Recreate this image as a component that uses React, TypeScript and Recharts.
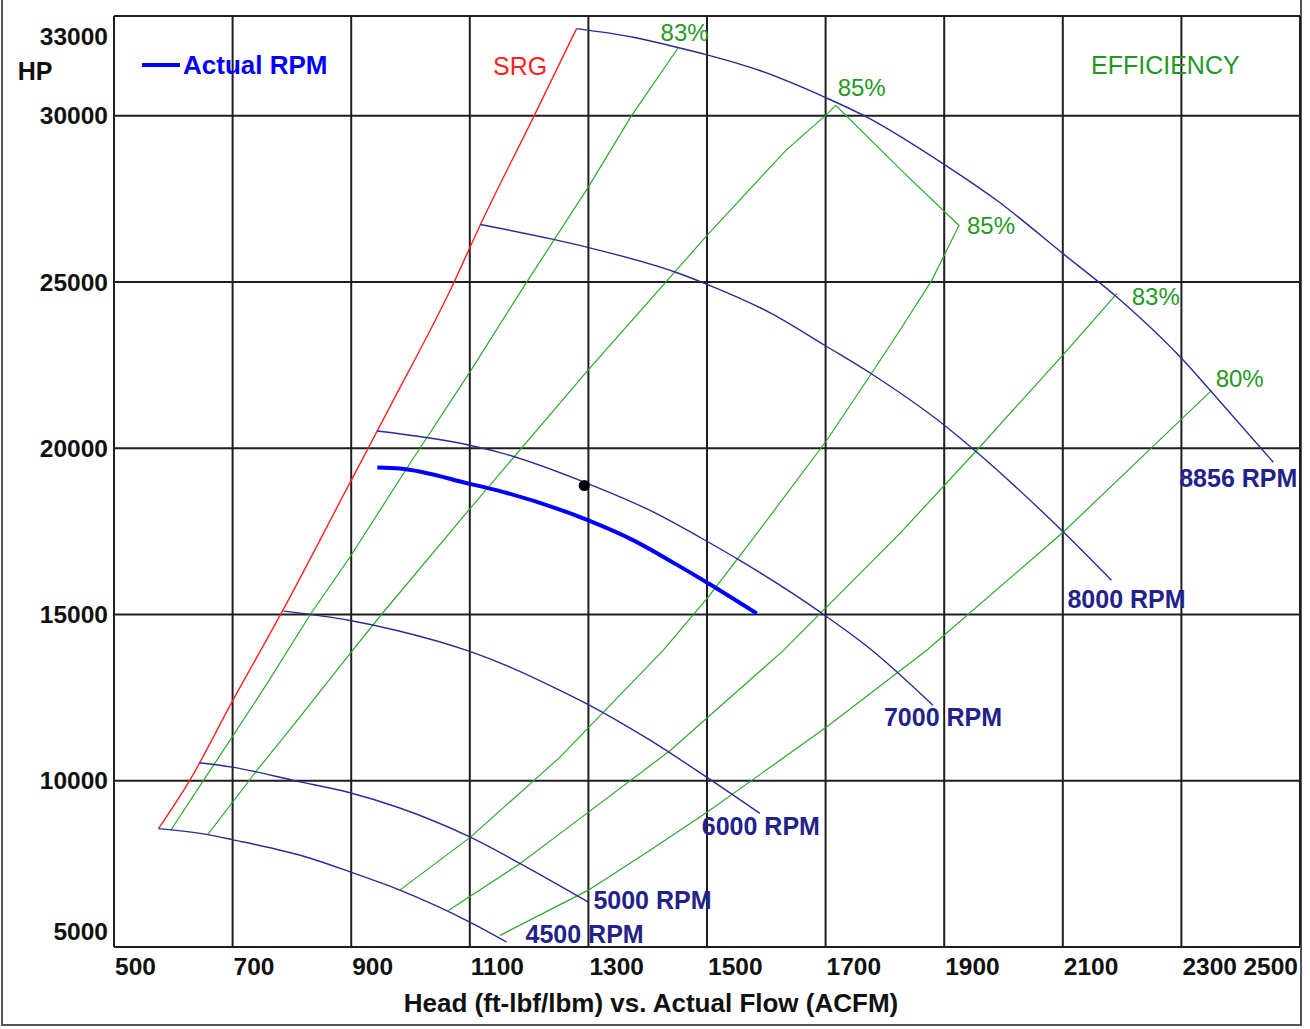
import React from 'react';
import { ComposedChart, Line, XAxis, YAxis, CartesianGrid, Scatter } from 'recharts';

const FONT = '"Liberation Sans", Arial, Helvetica, sans-serif';
const NAVY_TEXT = '#22228a';
const NAVY_LINE = '#2a2a98';
const GREEN_TEXT = '#1f991f';
const GREEN_LINE = '#2ea82e';
const RED = '#ff2222';
const BLUE = '#0000ff';

const X_TICKS = [500, 700, 900, 1100, 1300, 1500, 1700, 1900, 2100, 2300, 2500];
const Y_TICKS = [5000, 10000, 15000, 20000, 25000, 30000, 33000];

// Surge line
const SRG_FLOW = [575, 627, 699, 783, 894, 971, 1067, 1118, 1208, 1280];
const SRG_HP = [8560, 9990, 12370, 15070, 18830, 21440, 24750, 26730, 29980, 32620];

// Speed lines
const RPM8856_FLOW = [1280, 1376, 1449, 1500, 1589, 1702, 1764, 1903, 1989, 2102, 2191, 2301, 2351, 2455];
const RPM8856_HP = [32620, 32360, 32060, 31830, 31360, 30530, 30010, 28500, 27450, 25830, 24550, 22690, 21690, 19580];

const RPM8000_FLOW = [1118, 1241, 1299, 1446, 1500, 1609, 1699, 1777, 1904, 1955, 2101, 2182];
const RPM8000_HP = [26730, 26280, 26040, 25300, 24930, 24050, 23090, 22240, 20640, 19880, 17480, 16030];

const RPM7000_FLOW = [944, 1100, 1151, 1300, 1404, 1502, 1556, 1691, 1775, 1881];
const RPM7000_HP = [20520, 20090, 19870, 18930, 18130, 17180, 16620, 15070, 13970, 12270];

const RPM6000_FLOW = [786, 898, 977, 1100, 1168, 1252, 1299, 1404, 1500, 1589];
const RPM6000_HP = [15100, 14820, 14520, 13890, 13420, 12720, 12300, 11220, 10100, 9020];

const RPM5000_FLOW = [644, 699, 808, 898, 977, 1100, 1185, 1300];
const RPM5000_HP = [10540, 10410, 9990, 9640, 9210, 8310, 7510, 6350];

const RPM4500_FLOW = [575, 658, 699, 831, 898, 982, 1100, 1162];
const RPM4500_HP = [8560, 8380, 8230, 7670, 7260, 6710, 5750, 5150];

const ACTUAL_FLOW = [944, 982, 1100, 1151, 1300, 1376, 1446, 1502, 1584];
const ACTUAL_HP = [19420, 19390, 18930, 18710, 17830, 17230, 16530, 15940, 15030];

const OP_FLOW = [1293];
const OP_HP = [18880];

// Efficiency lines
const EFF83A_FLOW = [596, 651, 699, 758, 831, 898, 999, 1100, 1187, 1299, 1372, 1452];
const EFF83A_HP = [8520, 10010, 11310, 12920, 15000, 16730, 19540, 22290, 24750, 27830, 29980, 32060];

const EFF85_FLOW = [658, 741, 808, 898, 951, 1100, 1299, 1500, 1633, 1700, 1717, 1837, 1925, 1879, 1825, 1777, 1702, 1584, 1502, 1426, 1252, 1207, 1100, 982];
const EFF85_HP = [8380, 10310, 11790, 13820, 15000, 18180, 22340, 26400, 28960, 30010, 30310, 28200, 26700, 25050, 23540, 22240, 20240, 17430, 15520, 13920, 10710, 9990, 8290, 6710];

const EFF83B_FLOW = [1064, 1185, 1252, 1438, 1629, 1741, 1825, 1955, 2102, 2191];
const EFF83B_HP = [6100, 7510, 8410, 10910, 13920, 15930, 17430, 19940, 22840, 24650];

const EFF80_FLOW = [1151, 1300, 1404, 1500, 1701, 1870, 2101, 2301, 2351];
const EFF80_HP = [5350, 6710, 7910, 9050, 11610, 13920, 17480, 20890, 21740];

const toPoints = (flow: number[], hp: number[]) => flow.map((x, i) => ({ x, y: hp[i] }));

type LabelSpec = { text: string; dx: number; dy: number; anchor?: string; color: string; bold?: boolean; size?: number };

const makeLabel = (specs: Record<number, LabelSpec>) => (props: any) => {
  const s = specs[props.index];
  if (!s || props.x == null || props.y == null) return null;
  return (
    <text
      key={`l-${props.index}`}
      x={props.x + s.dx}
      y={props.y + s.dy}
      textAnchor={s.anchor || 'start'}
      dominantBaseline="central"
      fill={s.color}
      fontFamily={FONT}
      fontSize={s.size || 25}
      fontWeight={s.bold ? 'bold' : 'normal'}
    >
      {s.text}
    </text>
  );
};

const rpmLabel = (n: number, text: string, dx: number, dy: number, anchor = 'start') =>
  makeLabel({ [n - 1]: { text, dx, dy, anchor, color: NAVY_TEXT, bold: true, size: 25 } });

const effLabel = (text: string, dx: number, dy: number): LabelSpec => ({ text, dx, dy, color: GREEN_TEXT, size: 24 });

const series = [
  { key: 'srg', data: toPoints(SRG_FLOW, SRG_HP), color: RED, width: 1.4, type: 'monotone', label: undefined },
  { key: 'e83a', data: toPoints(EFF83A_FLOW, EFF83A_HP), color: GREEN_LINE, width: 1.2, type: 'linear', label: makeLabel({ [EFF83A_FLOW.length - 1]: effLabel('83%', -18, -15) }) },
  { key: 'e85', data: toPoints(EFF85_FLOW, EFF85_HP), color: GREEN_LINE, width: 1.2, type: 'linear', label: makeLabel({ 10: effLabel('85%', 2, -18), 12: effLabel('85%', 8, 0) }) },
  { key: 'e83b', data: toPoints(EFF83B_FLOW, EFF83B_HP), color: GREEN_LINE, width: 1.2, type: 'linear', label: makeLabel({ [EFF83B_FLOW.length - 1]: effLabel('83%', 15, 3) }) },
  { key: 'e80', data: toPoints(EFF80_FLOW, EFF80_HP), color: GREEN_LINE, width: 1.2, type: 'linear', label: makeLabel({ [EFF80_FLOW.length - 1]: effLabel('80%', 4, -12) }) },
  { key: 'r8856', data: toPoints(RPM8856_FLOW, RPM8856_HP), color: NAVY_LINE, width: 1.4, type: 'monotone', label: rpmLabel(RPM8856_FLOW.length, '8856 RPM', 24, 16, 'end') },
  { key: 'r8000', data: toPoints(RPM8000_FLOW, RPM8000_HP), color: NAVY_LINE, width: 1.4, type: 'monotone', label: rpmLabel(RPM8000_FLOW.length, '8000 RPM', -44, 19) },
  { key: 'r7000', data: toPoints(RPM7000_FLOW, RPM7000_HP), color: NAVY_LINE, width: 1.4, type: 'monotone', label: rpmLabel(RPM7000_FLOW.length, '7000 RPM', -49, 12) },
  { key: 'r6000', data: toPoints(RPM6000_FLOW, RPM6000_HP), color: NAVY_LINE, width: 1.4, type: 'monotone', label: rpmLabel(RPM6000_FLOW.length, '6000 RPM', -58, 13) },
  { key: 'r5000', data: toPoints(RPM5000_FLOW, RPM5000_HP), color: NAVY_LINE, width: 1.4, type: 'monotone', label: rpmLabel(RPM5000_FLOW.length, '5000 RPM', 5, -2) },
  { key: 'r4500', data: toPoints(RPM4500_FLOW, RPM4500_HP), color: NAVY_LINE, width: 1.4, type: 'monotone', label: rpmLabel(RPM4500_FLOW.length, '4500 RPM', 19, -8) },
  { key: 'actual', data: toPoints(ACTUAL_FLOW, ACTUAL_HP), color: BLUE, width: 4, type: 'monotone', label: undefined },
];

const XTick = (props: any) => {
  const { x, y, payload } = props;
  const last = payload.value === X_TICKS[X_TICKS.length - 1];
  return (
    <text
      x={last ? x - 2 : x + 1}
      y={y + 19}
      textAnchor={last ? 'end' : 'start'}
      dominantBaseline="central"
      fill="#111"
      fontFamily={FONT}
      fontSize={24.5}
      fontWeight="bold"
    >
      {payload.value}
    </text>
  );
};

const YTick = (props: any) => {
  const { x, y, payload } = props;
  let dy = 0;
  if (payload.value === Y_TICKS[Y_TICKS.length - 1]) dy = 20;
  if (payload.value === Y_TICKS[0]) dy = -16;
  return (
    <text
      x={x}
      y={y + dy}
      textAnchor="end"
      dominantBaseline="central"
      fill="#111"
      fontFamily={FONT}
      fontSize={24.5}
      fontWeight="bold"
    >
      {payload.value}
    </text>
  );
};

const OpDot = (props: any) => <circle cx={props.cx} cy={props.cy} r={5.5} fill="#000" />;

export default function App() {
  return (
    <div style={{ position: 'absolute', left: 0, top: 0, width: 1310, height: 1029, background: '#fff', overflow: 'hidden' }}>
      <div style={{ position: 'absolute', left: 1, top: -4, width: 1301, height: 1030, border: '2px solid #555', boxSizing: 'border-box' }} />
      <div style={{ position: 'absolute', left: 0, top: 0 }}>
        <ComposedChart width={1310} height={1029} margin={{ top: 16, right: 10, left: 0, bottom: 0 }}>
          <CartesianGrid stroke="#1e1e1e" strokeWidth={2} />
          <XAxis
            type="number"
            dataKey="x"
            domain={[500, 2500]}
            ticks={X_TICKS}
            interval={0}
            tick={<XTick />}
            tickLine={false}
            axisLine={false}
            tickSize={0}
            tickMargin={0}
            height={82}
            allowDataOverflow
          />
          <YAxis
            type="number"
            dataKey="y"
            domain={[5000, 33000]}
            ticks={Y_TICKS}
            interval={0}
            tick={<YTick />}
            tickLine={false}
            axisLine={false}
            tickSize={0}
            tickMargin={6}
            width={114}
            allowDataOverflow
          />
          {series.map((s) => (
            <Line
              key={s.key}
              data={s.data}
              dataKey="y"
              type={s.type as any}
              stroke={s.color}
              strokeWidth={s.width}
              dot={false}
              activeDot={false}
              isAnimationActive={false}
              label={s.label as any}
            />
          ))}
          <Scatter data={toPoints(OP_FLOW, OP_HP)} dataKey="y" shape={<OpDot />} isAnimationActive={false} />
          <text x={35} y={71} textAnchor="middle" dominantBaseline="central" fontFamily={FONT} fontSize={25} fontWeight="bold" fill="#111">HP</text>
          <line x1={142} y1={65} x2={180} y2={65} stroke={BLUE} strokeWidth={4} />
          <text x={183} y={65} dominantBaseline="central" fontFamily={FONT} fontSize={26} fontWeight="bold" fill={BLUE}>Actual RPM</text>
          <text x={493} y={66} dominantBaseline="central" fontFamily={FONT} fontSize={25} fill={RED}>SRG</text>
          <text x={1091} y={65} dominantBaseline="central" fontFamily={FONT} fontSize={25} fill={GREEN_TEXT}>EFFICIENCY</text>
          <text x={651} y={1003} textAnchor="middle" dominantBaseline="central" fontFamily={FONT} fontSize={26} fontWeight="bold" fill="#111">Head (ft-lbf/lbm) vs. Actual Flow (ACFM)</text>
        </ComposedChart>
      </div>
    </div>
  );
}
